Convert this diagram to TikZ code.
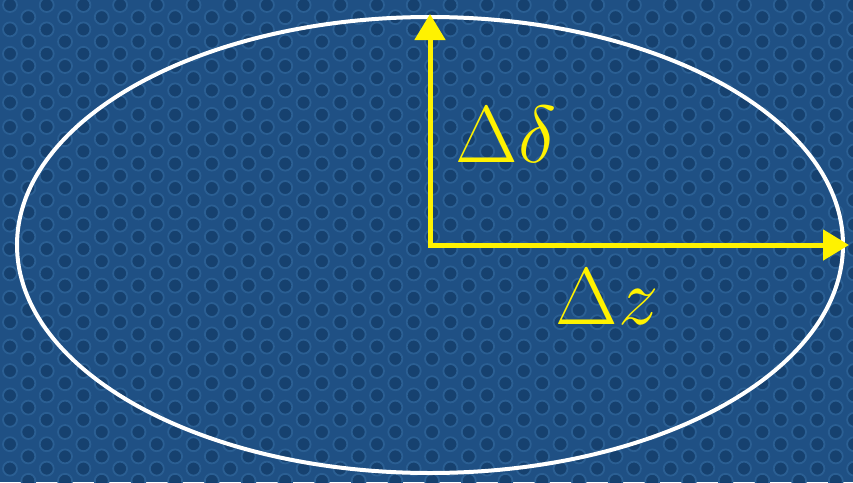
\documentclass[tikz,border=0pt]{standalone}
\usetikzlibrary{arrows.meta}
\definecolor{bgblue}{HTML}{1F5084}
\definecolor{dotblue}{HTML}{16416F}
\definecolor{ringblue}{HTML}{2B5F93}
\tikzset{axis/.style={yellow,line width=5pt,-{Triangle[width=30pt,length=26pt]}},
 lab/.style={yellow,font=\huge,scale=3.9}}
\begin{document}
\begin{tikzpicture}[x=1pt,y=-1pt]
\useasboundingbox (0,0) rectangle (853,482);
\clip (0,0) rectangle (853,482);
\fill[bgblue] (0,0) rectangle (853,482);
% dotted backdrop
\foreach \r in {0,...,40}{\foreach \c in {0,...,23}{
 \pgfmathsetmacro\px{10+36.7*\c+18.35*mod(\r,2)}
 \pgfmathsetmacro\py{5+12.2*\r}
 \fill[dotblue,draw=ringblue,line width=1.8pt] (\px,\py) circle (7);}}
\draw[white,line width=4pt] (430,245) ellipse (413 and 228);
\coordinate (o) at (430,245);
\coordinate (up) at (430,14);
\coordinate (rt) at (849,245);
\draw[axis] (o.center) -- (up);
\draw[axis] ([xshift=-2.5pt]o.center) -- (rt);
\node[lab] (dd) at (506,134) {$\Delta\delta$};
\node[lab] (dz) at (607,297) {$\Delta z$};
\end{tikzpicture}
\end{document}
